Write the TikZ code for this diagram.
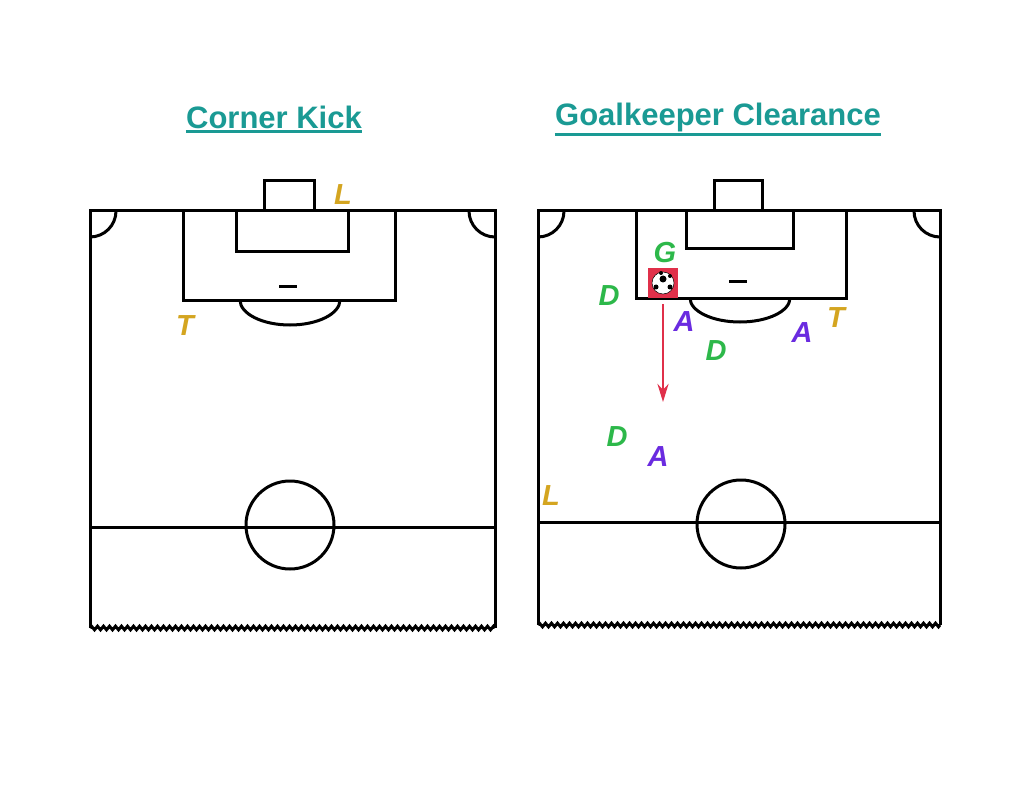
\documentclass[tikz,border=0pt]{standalone}
\usepackage{fontspec}
\setmainfont{Liberation Sans}
\usetikzlibrary{decorations.pathmorphing,arrows.meta}
\definecolor{teal1}{HTML}{1A9A94}
\definecolor{gold1}{HTML}{D4A520}
\definecolor{green1}{HTML}{2DB84A}
\definecolor{purp1}{HTML}{6A2BE0}
\definecolor{red1}{HTML}{E0304A}
\tikzset{
  line/.style={line width=3pt,black},
  title/.style={text=teal1,font=\fontsize{31}{36}\selectfont\bfseries},
  pl/.style={font=\fontsize{29}{32}\selectfont\bfseries\itshape},
  zz/.style={decorate,decoration={zigzag,segment length=6pt,amplitude=1.8pt}}
}
\newcommand{\pitch}[7]{%
 \draw[line] (#1,#4) -- (#1,211) -- (#2,211) -- (#2,#4);
 \draw[line,zz] (#1,#4) -- (#2,#4);
 \draw[line] (#1,#3) -- (#2,#3);
 \draw[line] (#1,237) arc[start angle=90,end angle=0,radius=26];
 \draw[line] (#2,237) arc[start angle=90,end angle=180,radius=26];
 \draw[line] (#5,211) -- (#5,#7) -- (#6,#7) -- (#6,211);
}
\begin{document}
\begin{tikzpicture}[x=1pt,y=-1pt]
\useasboundingbox[fill=white] (0,0) rectangle (1024,791);
\node[title,inner sep=0] (t1) at (274,117) {Corner Kick};
\draw[teal1,line width=2.4pt] (t1.south west) ++(0,3) -- ([yshift=-3pt]t1.south east);
\node[title,inner sep=0] (t2) at (718,117) {Goalkeeper Clearance};
\draw[teal1,line width=2.4pt] (t2.south west) ++(0,3) -- ([yshift=-3pt]t2.south east);
% left
\pitch{90}{495}{527}{628}{183}{395}{300}
\draw[line] (236,211) -- (236,252) -- (348,252) -- (348,211);
\draw[line] (264,211) -- (264,181) -- (314,181) -- (314,211);
\draw[line] (279,287) -- (297,287);
\draw[line] (240,300) arc[start angle=180,end angle=0,x radius=50,y radius=25];
\draw[line] (290,525) circle[radius=44];
\node[pl,text=gold1] (l1) at (343,195) {L};
\node[pl,text=gold1] (t1p) at (185,326) {T};
% right
\pitch{538}{940}{522}{625}{636}{846}{298}
\draw[line] (686,211) -- (686,249) -- (793,249) -- (793,211);
\draw[line] (714,211) -- (714,181) -- (762,181) -- (762,211);
\draw[line] (729,282) -- (747,282);
\draw[line] (690,298) arc[start angle=180,end angle=0,x radius=50,y radius=24];
\draw[line] (741,524) circle[radius=44];
\node[pl,text=green1] (g) at (665,253) {G};
\node[fill=red1,minimum size=30pt,inner sep=0] (ball) at (663,283) {};
\fill[white,draw=black,line width=0.5pt] (ball.center) circle[radius=11];
\fill[black] (663,279) circle[radius=3.5];
\fill[black] (656,287) circle[radius=2.5];
\fill[black] (670,287) circle[radius=2.5];
\fill[black] (661,273) circle[radius=2];
\fill[black] (670,276) circle[radius=2];
\coordinate (aend) at (663,402);
\draw[red1,line width=2.6pt,-{Stealth[length=18pt,width=11pt]}] (ball.south) ++(0,6) -- (aend);
\node[pl,text=green1] (d1) at (609,296) {D};
\node[pl,text=purp1] (a1) at (684,322) {A};
\node[pl,text=green1] (d2) at (716,351) {D};
\node[pl,text=purp1] (a2) at (802,333) {A};
\node[pl,text=gold1] (t2p) at (836,318) {T};
\node[pl,text=green1] (d3) at (617,437) {D};
\node[pl,text=purp1] (a3) at (658,457) {A};
\node[pl,text=gold1] (l2) at (551,496) {L};
\end{tikzpicture}
\end{document}
